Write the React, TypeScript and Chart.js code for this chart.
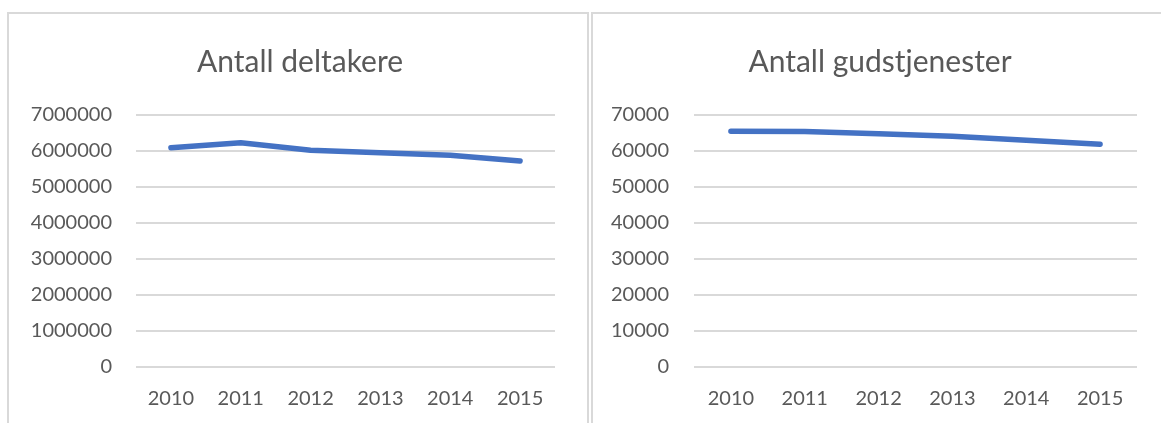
import React, { useEffect, useRef } from "react";
import { Chart, registerables } from "chart.js";

Chart.register(...registerables);

const years = ["2010", "2011", "2012", "2013", "2014", "2015"];
const deltakere = [6090000, 6230000, 6020000, 5950000, 5880000, 5720000];
const gudstjenester = [65500, 65400, 64800, 64100, 63000, 61900];
const titleLeft = "Antall deltakere";
const titleRight = "Antall gudstjenester";
const maxLeft = 7000000;
const stepLeft = 1000000;
const maxRight = 70000;
const stepRight = 10000;

const TEXT = "#595959";
const GRID = "#D9D9D9";
const LINE = "#4472C4";
const FONT = "Lato, 'Open Sans', sans-serif";

type Cfg = {
  labels: string[];
  values: number[];
  title: string;
  max: number;
  step: number;
  yWidth: number;
  rWidth: number;
  yPad: number;
};

function LineChart(props: Cfg & { style: React.CSSProperties; width: number; height: number }) {
  const ref = useRef<HTMLCanvasElement | null>(null);
  useEffect(() => {
    if (!ref.current) return;
    const chart = new Chart(ref.current, {
      type: "line",
      data: {
        labels: props.labels,
        datasets: [
          {
            data: props.values,
            borderColor: LINE,
            borderWidth: 5.5,
            pointRadius: 0,
            tension: 0,
            borderCapStyle: "round",
            borderJoinStyle: "round",
            fill: false,
            yAxisID: "y",
          },
        ],
      },
      options: {
        responsive: false,
        animation: false,
        layout: { padding: 0 },
        plugins: {
          legend: { display: false },
          tooltip: { enabled: false },
          title: {
            display: true,
            text: props.title,
            color: TEXT,
            font: { family: FONT, size: 30, weight: "normal" },
            padding: { top: 30, bottom: 35 },
          },
        },
        scales: {
          x: {
            offset: true,
            grid: { display: false, drawTicks: false },
            border: { display: false },
            ticks: { color: TEXT, font: { family: FONT, size: 20 }, padding: 20, maxRotation: 0 },
            afterFit: (s: any) => {
              s.height = 56;
            },
          },
          y: {
            position: "left",
            min: 0,
            max: props.max,
            grid: { color: GRID, lineWidth: 2, drawTicks: false },
            border: { display: false },
            ticks: {
              stepSize: props.step,
              color: TEXT,
              font: { family: FONT, size: 20 },
              padding: props.yPad,
              callback: (v: any) => String(v),
            },
            afterFit: (s: any) => {
              s.width = props.yWidth;
            },
          },
          yR: {
            type: "linear",
            position: "right",
            display: true,
            grid: { display: false, drawTicks: false },
            border: { display: false },
            ticks: { display: false },
            afterFit: (s: any) => {
              s.width = props.rWidth;
            },
          },
        },
      },
    });
    return () => chart.destroy();
  }, []);
  return <canvas ref={ref} width={props.width} height={props.height} style={props.style} />;
}

export default function App() {
  return (
    <div
      style={{
        position: "fixed",
        left: 0,
        top: 0,
        width: 1161,
        height: 423,
        overflow: "hidden",
        background: "#fff",
      }}
    >
      <div
        style={{
          position: "absolute",
          left: 7,
          top: 12,
          width: 578,
          height: 440,
          border: `2px solid ${GRID}`,
        }}
      />
      <div
        style={{
          position: "absolute",
          left: 591,
          top: 12,
          width: 600,
          height: 440,
          border: `2px solid ${GRID}`,
        }}
      />
      <LineChart
        labels={years}
        values={deltakere}
        title={titleLeft}
        max={maxLeft}
        step={stepLeft}
        yWidth={127}
        rWidth={36}
        yPad={24}
        width={582}
        height={409}
        style={{ position: "absolute", left: 9, top: 14, width: 582, height: 409 }}
      />
      <LineChart
        labels={years}
        values={gudstjenester}
        title={titleRight}
        max={maxRight}
        step={stepRight}
        yWidth={101}
        rWidth={30}
        yPad={25}
        width={574}
        height={409}
        style={{ position: "absolute", left: 593, top: 14, width: 574, height: 409 }}
      />
    </div>
  );
}
